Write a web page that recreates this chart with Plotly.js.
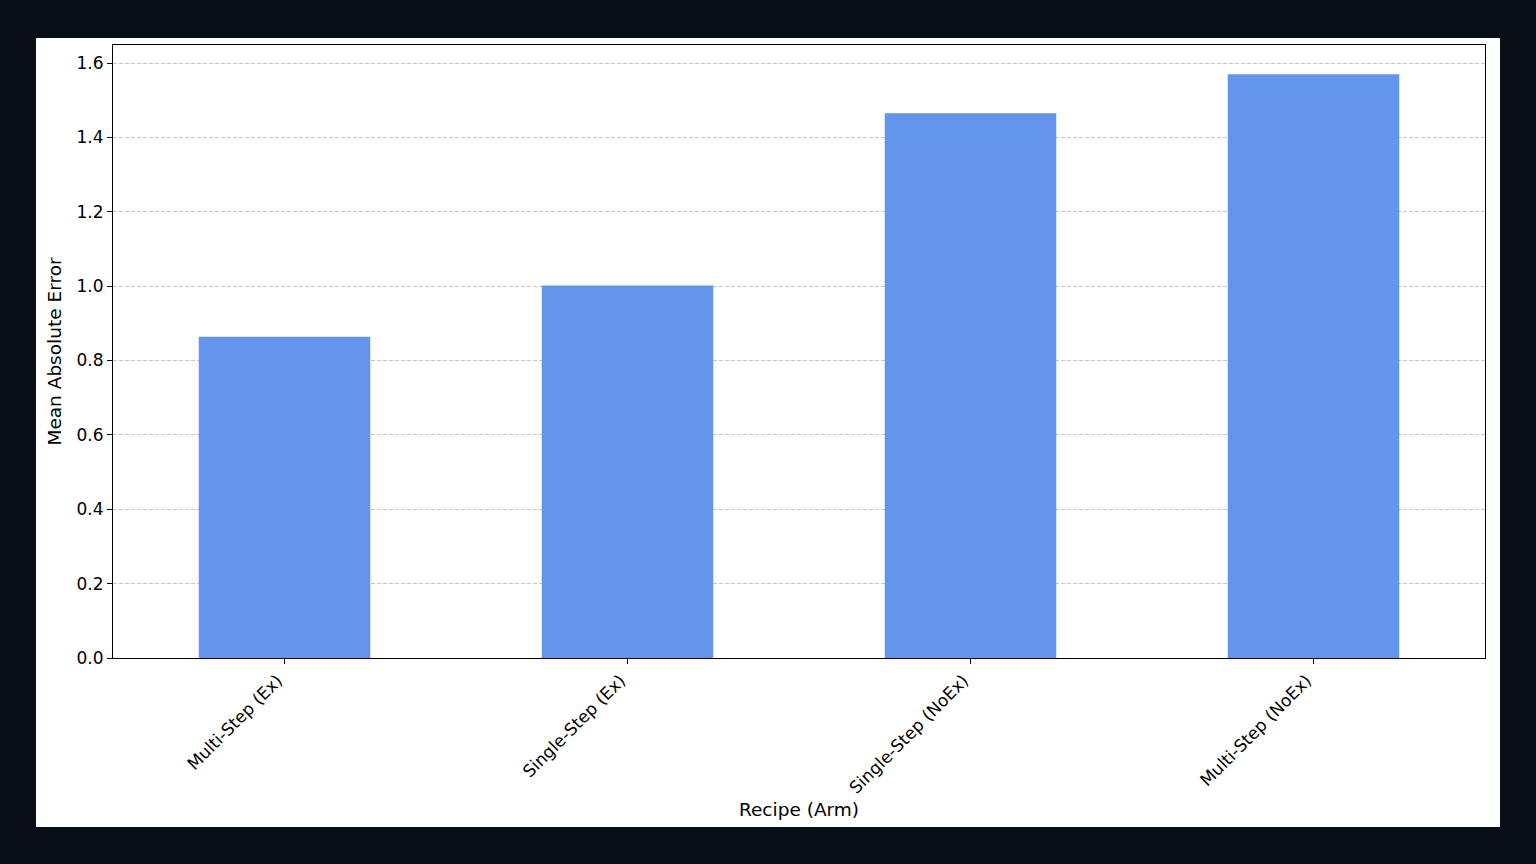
<!DOCTYPE html>
<html>
<head>
<meta charset="utf-8">
<script src="https://cdn.plot.ly/plotly-3.0.1.min.js"></script>
<style>
  html, body { margin: 0; padding: 0; width: 1536px; height: 864px; background: #0a0e17; overflow: hidden; }
  #chart { position: absolute; left: 36px; top: 38px; width: 1464px; height: 789px; background: #ffffff; }
</style>
</head>
<body>
<div id="chart"></div>
<script>
const categories = ["Multi-Step (Ex)", "Single-Step (Ex)", "Single-Step (NoEx)", "Multi-Step (NoEx)"];
const maeValues = [0.864, 1.002, 1.465, 1.570];
const yTickValues = [0.0, 0.2, 0.4, 0.6, 0.8, 1.0, 1.2, 1.4, 1.6];
const yTickLabels = ["0.0", "0.2", "0.4", "0.6", "0.8", "1.0", "1.2", "1.4", "1.6"];

const font = "DejaVu Sans, Liberation Sans, sans-serif";

const trace = {
  type: "bar",
  x: categories,
  y: maeValues,
  width: 0.5,
  marker: { color: "#6495ED", line: { width: 0 } },
  hoverinfo: "x+y"
};

const layout = {
  width: 1464,
  height: 789,
  paper_bgcolor: "#ffffff",
  plot_bgcolor: "#ffffff",
  margin: { l: 77, r: 15, t: 7, b: 169, pad: 0 },
  showlegend: false,
  font: { family: font, size: 17, color: "#000000" },
  xaxis: {
    type: "category",
    range: [-0.5, 3.5],
    tickangle: -45,
    ticks: "outside",
    ticklen: 5,
    tickwidth: 1,
    tickcolor: "#000",
    ticklabelshift: -7,
    showline: true,
    linecolor: "#000",
    linewidth: 1,
    mirror: true,
    showgrid: false,
    zeroline: false,
    automargin: false,
    tickfont: { family: font, size: 17, color: "#000" },
    title: { text: "Recipe (Arm)", font: { family: font, size: 18.5, color: "#000" }, standoff: 6 }
  },
  yaxis: {
    range: [0, 1.6485],
    tickvals: yTickValues,
    ticktext: yTickLabels,
    ticks: "outside",
    ticklen: 5,
    tickwidth: 1,
    tickcolor: "#000",
    showline: true,
    linecolor: "#000",
    linewidth: 1,
    mirror: true,
    showgrid: true,
    gridcolor: "rgba(180,180,180,0.75)",
    griddash: "4px,2px",
    gridwidth: 1,
    zeroline: false,
    layer: "above traces",
    automargin: false,
    tickfont: { family: font, size: 17, color: "#000" },
    title: { text: "Mean Absolute Error", font: { family: font, size: 18.5, color: "#000" }, standoff: 10 }
  }
};

Plotly.newPlot("chart", [trace], layout, { displayModeBar: false, staticPlot: true });
</script>
</body>
</html>
